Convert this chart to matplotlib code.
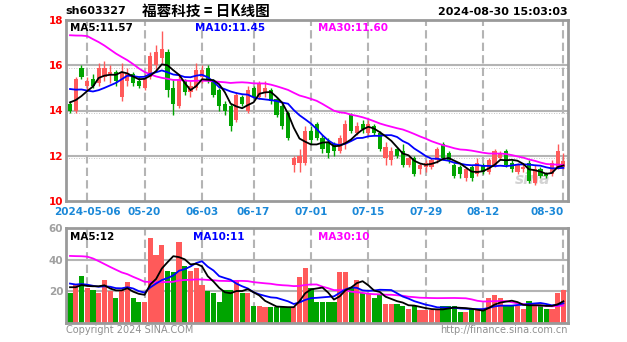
import matplotlib
matplotlib.use("Agg")
import matplotlib.pyplot as plt
import numpy as np
import pandas as pd

# daily candles 2024-04-26 .. 2024-08-30 (index 0..86)
opens = [14.3, 14.0, 15.9, 15.1, 15.4, 15.2, 15.5, 15.6, 15.7, 14.6,
         15.3, 15.6, 15.3, 15.0, 15.5, 16.0, 16.3, 16.6, 15.0, 14.2,
         15.3, 14.8, 15.0, 15.5, 15.9, 15.3, 14.9, 14.3, 14.2, 13.6,
         14.6, 14.0, 15.0, 14.6, 14.8, 14.9, 14.5, 14.2, 13.9, 11.6,
         11.7, 11.7, 13.1, 13.4, 12.8, 12.6, 12.5, 12.2, 12.5, 13.8,
         13.0, 13.4, 13.0, 13.3, 13.0, 11.9, 11.8, 12.3, 12.2, 11.6,
         11.9, 11.4, 11.5, 11.5, 11.8, 12.5, 12.1, 11.6, 11.5, 11.0,
         11.5, 11.2, 11.6, 11.3, 11.6, 11.9, 12.2, 11.7, 11.3, 11.4,
         11.7, 10.8, 11.4, 11.2, 11.2, 11.5, 11.5]
highs = [14.4, 15.5, 16.0, 15.5, 15.6, 16.1, 16.2, 16.0, 15.8, 16.1,
         15.9, 15.7, 15.5, 15.6, 16.6, 16.9, 17.5, 16.7, 15.4, 15.6,
         15.4, 15.3, 16.1, 16.0, 16.0, 15.4, 15.0, 14.4, 14.3, 14.8,
         14.7, 15.1, 15.1, 15.3, 15.3, 15.0, 14.6, 14.3, 14.0, 12.0,
         12.3, 13.3, 13.3, 13.5, 12.9, 12.8, 12.6, 12.9, 13.6, 13.9,
         13.5, 13.6, 13.6, 13.4, 13.1, 12.6, 12.4, 12.4, 12.5, 12.0,
         12.0, 11.7, 11.8, 11.9, 12.4, 12.6, 12.2, 11.7, 11.6, 11.5,
         11.6, 11.9, 11.7, 11.9, 12.3, 12.2, 12.3, 11.8, 11.7, 11.7,
         11.8, 11.6, 11.5, 11.3, 11.8, 12.5, 12.1]
lows = [13.9, 13.9, 15.4, 14.9, 15.0, 15.1, 15.3, 15.2, 15.1, 14.4,
        15.1, 15.1, 15.0, 14.9, 15.4, 15.8, 16.1, 14.6, 13.8, 14.1,
        14.7, 14.6, 14.9, 15.2, 15.2, 14.6, 14.0, 13.8, 13.1, 13.5,
        14.2, 13.9, 14.5, 14.5, 14.6, 14.3, 13.7, 13.2, 12.7, 11.3,
        11.3, 11.6, 12.5, 12.7, 12.1, 11.9, 12.0, 12.1, 12.3, 13.0,
        12.9, 13.0, 12.9, 12.9, 12.2, 11.6, 11.6, 11.9, 11.5, 11.5,
        11.1, 11.2, 11.3, 11.4, 11.7, 11.8, 11.7, 11.0, 11.0, 10.9,
        10.9, 11.1, 11.2, 11.2, 11.5, 11.8, 11.5, 11.3, 11.2, 11.3,
        10.8, 10.7, 11.0, 11.0, 11.1, 11.4, 11.4]
closes = [14.0, 15.4, 15.5, 15.3, 15.1, 15.9, 15.9, 15.7, 15.3, 15.7,
          15.6, 15.2, 15.1, 15.4, 16.4, 16.6, 16.7, 14.9, 14.3, 15.4,
          14.8, 15.1, 15.8, 15.8, 15.3, 14.7, 14.2, 14.0, 13.3, 14.7,
          14.3, 14.9, 14.6, 15.2, 15.0, 14.4, 13.8, 13.3, 12.8, 11.9,
          12.0, 13.1, 12.7, 12.8, 12.3, 12.1, 12.2, 12.8, 13.4, 13.1,
          13.3, 13.2, 13.4, 13.0, 12.3, 12.4, 12.2, 12.0, 11.6, 11.9,
          11.2, 11.6, 11.7, 11.8, 12.3, 11.9, 11.8, 11.1, 11.2, 11.4,
          11.0, 11.7, 11.3, 11.8, 12.2, 12.1, 11.6, 11.4, 11.6, 11.5,
          10.9, 11.4, 11.1, 11.1, 11.7, 12.2, 11.75]
volumes = [19, 24, 30, 22, 21, 19, 27, 20, 16, 21,
           26, 16, 13, 13, 54, 43, 49, 33, 32, 51,
           36, 33, 35, 24, 20, 19, 13, 21, 21, 27,
           19, 19, 11, 11, 10, 10, 10, 10, 10, 10,
           29, 35, 22, 13, 13, 13, 13, 32, 32, 22,
           27, 19, 19, 15.5, 17.5, 12, 12, 12, 11, 9,
           11, 8, 8, 8, 8, 11, 11, 11, 7, 7,
           9, 8, 8, 15.5, 17.5, 15.5, 11, 11, 11, 9,
           14, 11, 11, 9, 9, 19, 20.6]

# closes / volumes of the 29 sessions before the window (only feed the MAs)
prior_close = [15.8, 15.6, 15.9, 19.2, 19.8, 20.5, 21.0, 20.6, 20.2, 19.9,
               20.4, 20.8, 20.1, 19.6, 19.3, 18.6, 16.2, 15.8, 15.4, 15.6,
               15.7, 15.4, 15.8, 15.5, 15.3, 14.9, 14.6, 14.2, 14.1]
prior_vol = [28, 32, 30, 55, 70, 82, 75, 68, 72, 60,
             66, 58, 62, 55, 50, 48, 30, 28, 26, 27,
             30, 27, 26, 28, 25, 24, 23, 25, 22]

tick_idx = [3, 13, 23, 32, 42, 52, 62, 72, 86]
tick_labels = ["2024-05-06", "05-20", "06-03", "06-17", "07-01",
               "07-15", "07-29", "08-12", "08-30"]

RED = "#ff5a5a"
GREEN = "#00a400"
GRID = "#b4b4b4"
FRAME = "#9a9a9a"

n = len(closes)
x = np.arange(n)
cs = pd.Series(prior_close + closes)
vs = pd.Series(prior_vol + volumes)
npre = len(prior_close)
ma = {k: cs.rolling(k).mean().values[npre:] for k in (5, 10, 30)}
vma = {k: vs.rolling(k).mean().values[npre:] for k in (5, 10, 30)}

up = np.array(closes) >= np.array(opens)
colors = [RED if u else GREEN for u in up]

W, H = 627, 342
fig = plt.figure(figsize=(W / 100, H / 100), dpi=100)
fig.patch.set_facecolor("white")

def pos(l, t, r, b):
    return [l / W, 1 - b / H, (r - l) / W, (b - t) / H]

ax = fig.add_axes(pos(66, 20, 568, 201))
axv = fig.add_axes(pos(66, 228, 568, 323))

xlim = (-0.7, 86.8)

# ---- price panel
for yv in (12, 14, 16):
    ax.axhline(yv, color=GRID, lw=1.5, zorder=0)
    ax.axhline(yv - 0.12, color=GRID, lw=0.6, ls=(0, (1, 2)), zorder=0)
for t in tick_idx:
    ax.axvline(t, color=GRID, lw=1.5, ls=(0, (4, 2)), zorder=0)

body_lo = np.minimum(opens, closes)
body_h = np.maximum(np.abs(np.array(closes) - np.array(opens)), 0.04)
ax.vlines(x, lows, highs, colors=colors, lw=1, zorder=2)
ax.bar(x, body_h, bottom=body_lo, width=0.72, color=colors, zorder=3)

ax.plot(x, ma[30], color="#ff00ff", lw=1.3, zorder=4)
ax.plot(x, ma[10], color="#0000ff", lw=1.3, zorder=5)
ax.plot(x, ma[5], color="black", lw=1.3, zorder=6)

ax.set_xlim(*xlim)
ax.set_ylim(10, 18)
ax.set_yticks([10, 12, 14, 16, 18])
ax.set_yticklabels(["10", "12", "14", "16", "18"], color="#ff0000",
                   fontsize=7.5, fontweight="bold")
ax.set_xticks(tick_idx)
ax.set_xticklabels(tick_labels, color="#1a88d8", fontsize=7.5, fontweight="bold")
ax.get_xticklabels()[-1].set_horizontalalignment("right")
ax.get_xticklabels()[-1].set_x(87.0)
ax.tick_params(length=0, pad=2)
ax.tick_params(axis="x", pad=4)
for s in ax.spines.values():
    s.set_color(FRAME)
    s.set_linewidth(2)

ax.text(0.008, 0.985, "MA5:11.57", transform=ax.transAxes, color="black",
        fontsize=7.5, fontweight="bold", va="top")
ax.text(0.257, 0.985, "MA10:11.45", transform=ax.transAxes, color="#0000ff",
        fontsize=7.5, fontweight="bold", va="top")
ax.text(0.502, 0.985, "MA30:11.60", transform=ax.transAxes, color="#ff00ff",
        fontsize=7.5, fontweight="bold", va="top")
ax.text(0.965, 0.08, "sina", transform=ax.transAxes, color="#c8c8c8",
        fontsize=11, fontweight="bold", fontstyle="italic", ha="right",
        va="bottom", alpha=0.8, zorder=1)

# ---- volume panel
for yv in (20, 40):
    axv.axhline(yv, color=GRID, lw=1.5, zorder=0)
for t in tick_idx:
    axv.axvline(t, color=GRID, lw=1.5, ls=(0, (4, 2)), zorder=0)
axv.bar(x, volumes, width=0.9, color=colors, zorder=2)
axv.plot(x, vma[30], color="#ff00ff", lw=1.3, zorder=4)
axv.plot(x, vma[10], color="#0000ff", lw=1.3, zorder=5)
axv.plot(x, vma[5], color="black", lw=1.3, zorder=6)
axv.set_xlim(*xlim)
axv.set_ylim(0, 60)
axv.set_yticks([20, 40, 60])
axv.set_yticklabels(["20", "40", "60"], color="#a0a0a0", fontsize=7.5,
                    fontweight="bold")
axv.set_xticks([])
axv.tick_params(length=0, pad=2)
for s in axv.spines.values():
    s.set_color(FRAME)
    s.set_linewidth(2)

axv.text(0.008, 0.96, "MA5:12", transform=axv.transAxes, color="black",
         fontsize=7.5, fontweight="bold", va="top")
axv.text(0.252, 0.96, "MA10:11", transform=axv.transAxes, color="#0000ff",
         fontsize=7.5, fontweight="bold", va="top")
axv.text(0.502, 0.96, "MA30:10", transform=axv.transAxes, color="#ff00ff",
         fontsize=7.5, fontweight="bold", va="top")

# ---- header / footer
fig.text(65 / W, 1 - 11 / H, "sh603327", fontsize=8, fontweight="bold",
         va="center", ha="left", color="black")
fig.text(142 / W, 1 - 11 / H, "福蓉科技 = 日K线图", fontsize=10.5,
         fontweight="bold", va="center", ha="left", color="black",
         family=["Noto Sans CJK SC", "DejaVu Sans"])
fig.text(568 / W, 1 - 12 / H, "2024-08-30 15:03:03", fontsize=8,
         fontweight="bold", va="center", ha="right", color="black")
fig.text(66 / W, 1 - 330 / H, "Copyright 2024 SINA.COM", fontsize=7,
         va="center", ha="left", color="#909090")
fig.text(568 / W, 1 - 330 / H, "http://finance.sina.com.cn", fontsize=7,
         va="center", ha="right", color="#909090")

fig.savefig("out.png", dpi=100, facecolor="white")
